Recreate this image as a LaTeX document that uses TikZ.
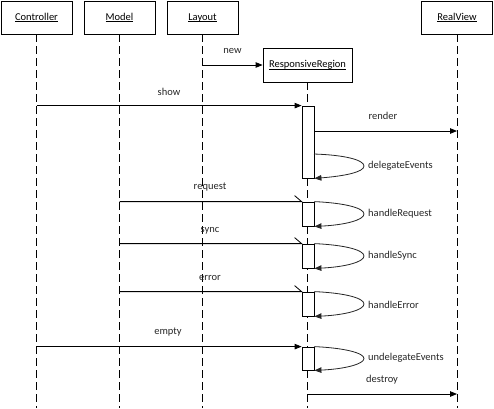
\documentclass[tikz,border=0pt]{standalone}
\usepackage{fontspec}
\setmainfont{Carlito}
\usetikzlibrary{arrows.meta}
\newsavebox\objbox
\newcommand\objname[1]{\sbox\objbox{#1}\rlap{\rule[-1.6pt]{\wd\objbox}{0.6pt}}\usebox\objbox}
\begin{document}
\begin{tikzpicture}[x=1pt, y=-1pt,
  obj/.style={rectangle, draw=black, fill=white, line width=0.8pt, minimum width=71pt, minimum height=33pt, inner sep=0pt, font=\fontsize{10.5}{12}\selectfont},
  act/.style={rectangle, draw=black, fill=white, line width=0.8pt, minimum width=12pt, inner sep=0pt},
  life/.style={black, line width=0.8pt, dash pattern=on 8pt off 4pt},
  msg/.style={black, line width=0.8pt, -{Triangle[length=7pt,width=5.5pt]}},
  async/.style={black, line width=0.8pt},
  self/.style={black!85, line width=0.8pt, -{Triangle[length=7pt,width=5.5pt]}},
  lbl/.style={font=\fontsize{10.5}{12}\selectfont, text=black!85, inner sep=0pt}]
\useasboundingbox (0,0) rectangle (494,408);
\coordinate (bottom) at (0,408);
% objects
\node[obj] (ctrl) at (36.5,17.5) {\objname{Controller}};
\node[obj] (model) at (119.5,17.5) {\objname{Model}};
\node[obj] (layout) at (202.5,17.5) {\objname{Layout}};
\node[obj] (realview) at (457,17.5) {\objname{RealView}};
\node[obj, minimum width=89pt, minimum height=34pt] (region) at (307.5,65) {\objname{ResponsiveRegion}};
% lifelines
\draw[life] (ctrl.south) -- (ctrl.south |- bottom);
\draw[life] (model.south) -- (model.south |- bottom);
\draw[life] (layout.south) -- (layout.south |- bottom);
\draw[life] (realview.south) -- (realview.south |- bottom);
\draw[life] (region.south) -- (region.south |- bottom);
% activations
\node[act, minimum height=72pt] (act1) at (308,142) {};
\node[act, minimum height=24pt] (act2) at (308,214) {};
\node[act, minimum height=24pt] (act3) at (308,256) {};
\node[act, minimum height=24pt] (act4) at (308,304) {};
\node[act, minimum height=23pt] (act5) at (308,358.5) {};
\coordinate (render) at (0,131);
\coordinate (deleg) at (314,154);
\coordinate (destroy) at (0,394);
% creation and show
\draw[msg] (layout.south |- region.west) -- (region.west);
\node[lbl] (newlbl) at (232.5,51) {new};
\draw[msg] (ctrl.south |- act1.north west) -- (act1.north west);
\node[lbl] (showlbl) at (169,92) {show};
\draw[msg] (act1.east |- render) -- (realview.south |- render);
\node[lbl] (renderlbl) at (383,116) {render};
\draw[self] (deleg) .. controls (345,155) and (364,160) .. (364,166) .. controls (364,172) and (345,176) .. (act1.south east);
\node[lbl, anchor=west] (deleglbl) at (368,166) {delegateEvents};
% model events
\draw[async] (model.south |- act2.north west) -- (act2.north west) -- ++(-7,-6);
\node[lbl] (reqlbl) at (210,187) {request};
\draw[self] (act2.north east) .. controls (345,203) and (364,208) .. (364,214) .. controls (364,220) and (345,225) .. (act2.south east);
\node[lbl, anchor=west] (hreqlbl) at (368,214) {handleRequest};
\draw[async] (model.south |- act3.north west) -- (act3.north west) -- ++(-7,-6);
\node[lbl] (synclbl) at (210,231) {sync};
\draw[self] (act3.north east) .. controls (345,245) and (364,250) .. (364,256) .. controls (364,262) and (345,267) .. (act3.south east);
\node[lbl, anchor=west] (hsynclbl) at (368,256) {handleSync};
\draw[async] (model.south |- act4.north west) -- (act4.north west) -- ++(-7,-6);
\node[lbl] (errlbl) at (210,278) {error};
\draw[self] (act4.north east) .. controls (345,293) and (364,298) .. (364,304) .. controls (364,310) and (345,315) .. (act4.south east);
\node[lbl, anchor=west] (herrlbl) at (368,305) {handleError};
% teardown
\draw[msg] (ctrl.south |- act5.north west) -- (act5.north west);
\node[lbl] (emptylbl) at (168,332) {empty};
\draw[self] (act5.north east) .. controls (345,348) and (364,353) .. (364,358.5) .. controls (364,364) and (345,369) .. (act5.south east);
\node[lbl, anchor=west] (undeleglbl) at (368,358) {undelegateEvents};
\draw[msg] (region.south |- destroy) -- (realview.south |- destroy);
\node[lbl] (destroylbl) at (382,380) {destroy};
\end{tikzpicture}
\end{document}
